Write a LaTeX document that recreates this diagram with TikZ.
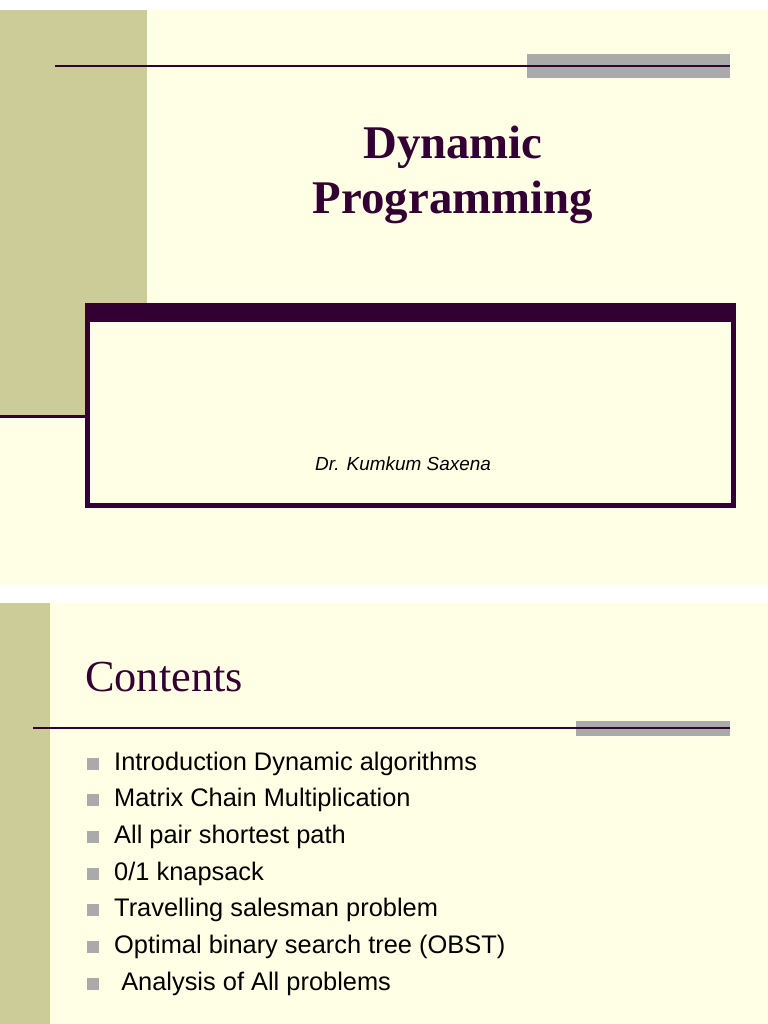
\documentclass[tikz,border=0pt]{standalone}
\usepackage{fontspec}
\setmainfont{Liberation Serif}
\setsansfont{Liberation Sans}
\definecolor{bgy}{HTML}{FFFFE5}
\definecolor{olive}{HTML}{CCCC99}
\definecolor{dp}{HTML}{330033}
\definecolor{gb}{HTML}{AAAAAA}
\begin{document}
\begin{tikzpicture}[x=1bp,y=-1bp,
  item/.style={anchor=west,font=\sffamily\fontsize{25.5}{28}\selectfont,text=black,inner sep=0},
  bul/.style={fill=gb,minimum size=12bp,inner sep=0}]
\useasboundingbox (0,0) rectangle (768,1024);
\fill[white] (0,0) rectangle (768,1024);
% slide 1
\fill[bgy] (0,10) rectangle (768,585);
\fill[olive] (0,10) rectangle (147,415);
\fill[gb] (527,54) rectangle (730,78);
\draw[dp,line width=2.5bp] (55,66) -- (730,66);
\draw[dp,line width=3bp] (0,416) -- (86,416);
\node[font=\bfseries\fontsize{47}{56}\selectfont,text=dp,align=center] (title) at (453,175) {Dynamic\\Programming};
\fill[bgy] (85,303) rectangle (735,507);
\fill[dp] (85,303) rectangle (735,322);
\draw[dp,line width=5bp] (87,305) rectangle (733,505);
\node[font=\sffamily\itshape\fontsize{19}{22}\selectfont] (auth) at (403,464) {Dr. Kumkum Saxena};
% slide 2
\fill[bgy] (0,603) rectangle (768,1024);
\fill[olive] (0,603) rectangle (50,1024);
\node[anchor=west,font=\fontsize{44.5}{50}\selectfont,text=dp,inner sep=0] (cont) at (85,677) {Contents};
\fill[gb] (576,721) rectangle (730,736);
\draw[dp,line width=1.5bp] (33,728) -- (730,728);
\foreach \y/\t in {764/{Introduction Dynamic algorithms},800/{Matrix Chain Multiplication},837/{All pair shortest path},874/{0/1 knapsack},910/{Travelling salesman problem},947/{Optimal binary search tree (OBST)},984/{\ Analysis of All problems}}{
  \node[bul] at (93,\y) {};
  \node[item] at (114,\y) {\t};
}
\end{tikzpicture}
\end{document}
